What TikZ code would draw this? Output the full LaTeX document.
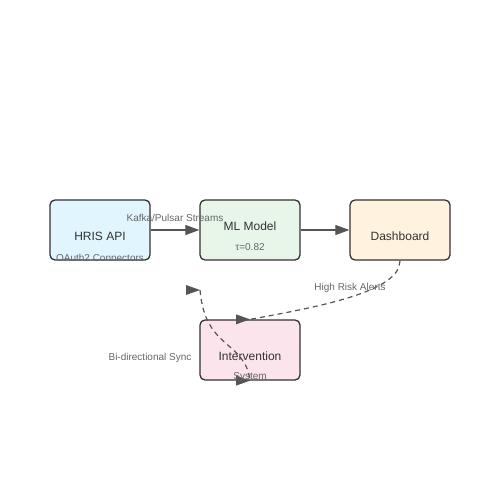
\documentclass[tikz,border=0pt]{standalone}
\usepackage{fontspec}
\setmainfont{Liberation Sans}
\usetikzlibrary{arrows.meta}
\definecolor{edgegray}{HTML}{555555}
\definecolor{boxline}{HTML}{333333}
\definecolor{labgray}{HTML}{666666}
\definecolor{hrisfill}{HTML}{E1F5FE}
\definecolor{mlfill}{HTML}{E8F5E9}
\definecolor{dashfill}{HTML}{FFF3E0}
\definecolor{intvfill}{HTML}{FCE4EC}
\newcommand{\labsize}{\fontsize{10}{12}\selectfont}
\newcommand{\boxsize}{\fontsize{12}{14}\selectfont}

\begin{document}
\begin{tikzpicture}[x=1pt,y=-1pt,
   box/.style={draw=boxline,line width=1.3pt,rounded corners=5pt,
               minimum width=100pt,minimum height=60pt,inner sep=0pt},
   flow/.style={draw=edgegray,line width=1.2pt,-{Triangle[length=14pt,width=10pt]}},
   link/.style={draw=edgegray,line width=1.2pt,dashed,dash pattern=on 5pt off 4pt},
   tip/.style={draw=none,fill=edgegray},
   txt/.style={inner sep=0pt,text=boxline,font=\boxsize},
   note/.style={inner sep=0pt,text=labgray,font=\labsize,yshift=-1.5pt}]
   \useasboundingbox (0,0) rectangle (500,500);
   % boxes
   \node[box,fill=hrisfill] (hris) at (100,230) {};
   \node[box,fill=mlfill]   (ml)   at (250,230) {};
   \node[box,fill=dashfill] (dash) at (400,230) {};
   \node[box,fill=intvfill] (intv) at (250,350) {};
   \coordinate (sync) at (200,290);
   % arrows
   \draw[flow] (hris.east) -- (ml.west);
   \draw[flow] (ml.east) -- (dash.west);
   \draw[link] (dash.south) .. controls (400,290) and (330,305) .. (intv.north);
   \draw[link] (sync) .. controls (205,350) and (245,340) .. (intv.south);
   \foreach \p in {intv.north,sync,intv.south}
      \fill[tip] (\p) -- ++(-14,-5) -- ++(0,10) -- cycle;
   % texts
   \node[txt]  (hristxt) at (100,236) {HRIS API};
   \node[txt]  (mltxt)   at (250,226) {ML Model};
   \node[txt]  (dashtxt) at (400,236) {Dashboard};
   \node[txt]  (intvtxt) at (250,356) {Intervention};
   \node[note] (tau)     at (250,246) {τ=0.82};
   \node[note] (syst)    at (250,376) {System};
   \node[note] (oauth)   at (100,256) {OAuth2 Connectors};
   \node[note] (kafka)   at (175,216) {Kafka/Pulsar Streams};
   \node[note] (alerts)  at (350,286) {High Risk Alerts};
   \node[note] (bidir)   at (150,356) {Bi-directional Sync};
\end{tikzpicture}
\end{document}
